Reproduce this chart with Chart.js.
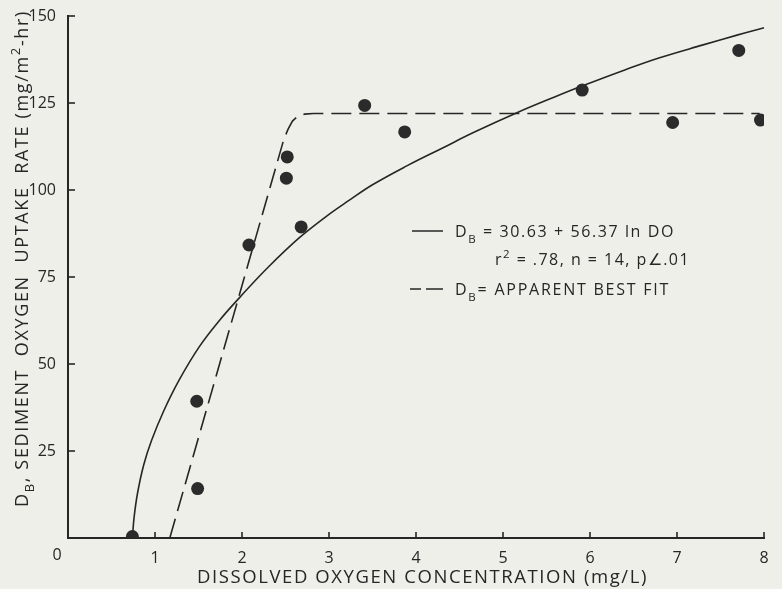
<!DOCTYPE html>
<html>
<head>
<meta charset="utf-8">
<script src="https://cdn.jsdelivr.net/npm/chart.js@4/dist/chart.umd.min.js"></script>
<style>
  html, body { margin: 0; padding: 0; background: #efefea; }
  #wrap { width: 782px; height: 589px; }
</style>
</head>
<body>
<div id="wrap"><canvas id="soc" width="782" height="589"></canvas></div>
<script>
// observed uptake rates
const obsDO   = [0.74, 1.48, 1.49, 2.08, 2.51, 2.52, 2.68, 3.41, 3.87, 5.91, 6.95, 7.71, 7.96];
const obsRate = [0.4, 39.3, 14.2, 84.2, 103.4, 109.5, 89.4, 124.3, 116.7, 128.7, 119.4, 140.1, 120.1];

// log regression curve as drawn
const fitDO   = [0.74, 0.76, 0.80, 0.87, 0.96, 1.10, 1.28, 1.51, 1.75, 1.98, 2.30, 2.66, 3.00, 3.23, 3.50, 3.90, 4.30, 4.66, 5.16, 5.60, 5.90, 6.40, 6.80, 7.30, 7.69, 8.00, 8.20];
const fitRate = [0, 6, 13, 21, 28, 36.5, 45.5, 55, 62.8, 69.3, 77.8, 86.3, 93, 97, 101.5, 107, 112, 116.5, 122.2, 126.8, 129.8, 134.5, 138, 141.7, 144.5, 146.6, 148];

// apparent best fit (broken line)
const bestDO   = [1.17, 2.48, 2.53, 2.58, 2.64, 2.72, 2.82, 7.95];
const bestRate = [0, 114.5, 117.5, 119.8, 121.2, 121.8, 122.0, 122.0];

const xTicks = [0, 1, 2, 3, 4, 5, 6, 7, 8];
const yTicks = [0, 25, 50, 75, 100, 125, 150];

const FONT = '"Open Sans", sans-serif';
const INK = '#262626';

const pts = (xs, ys) => xs.map((x, i) => ({ x, y: ys[i] }));

function segFont(s, size) {
  const sz = s.sub || s.sup ? size * 0.72 : size;
  return `${sz}px ${FONT}`;
}

// draw text runs with subscripts/superscripts, stretched to a given width
function drawRich(ctx, segs, x, y, size, target) {
  ctx.letterSpacing = '0px';
  let base = 0, chars = 0;
  segs.forEach(s => {
    ctx.font = segFont(s, size);
    base += ctx.measureText(s.t).width;
    chars += s.t.length;
  });
  const sp = target ? (target - base) / chars : 0;
  ctx.letterSpacing = sp + 'px';
  let cx = x;
  segs.forEach(s => {
    ctx.font = segFont(s, size);
    const dy = s.sub ? size * 0.35 : s.sup ? -size * 0.45 : 0;
    ctx.fillText(s.t, cx, y + dy);
    cx += ctx.measureText(s.t).width;
  });
  ctx.letterSpacing = '0px';
  return cx;
}

const paper = {
  id: 'paper',
  beforeDraw(chart) {
    const { ctx, width, height } = chart;
    ctx.save();
    ctx.fillStyle = '#efefea';
    ctx.fillRect(0, 0, width, height);
    ctx.restore();
  }
};

const extras = {
  id: 'extras',
  afterDraw(chart) {
    const { ctx, scales: { x, y } } = chart;
    ctx.save();
    ctx.strokeStyle = INK;
    ctx.fillStyle = INK;
    ctx.lineWidth = 1.6;

    // inward tick marks
    xTicks.slice(1).forEach(v => {
      const px = x.getPixelForValue(v);
      ctx.beginPath();
      ctx.moveTo(px, y.bottom);
      ctx.lineTo(px, y.bottom - 6);
      ctx.stroke();
    });
    yTicks.slice(1).forEach(v => {
      const py = y.getPixelForValue(v);
      ctx.beginPath();
      ctx.moveTo(x.left, py);
      ctx.lineTo(x.left + 7, py);
      ctx.stroke();
    });

    // origin label sits left of the corner
    ctx.font = `16px ${FONT}`;
    ctx.textAlign = 'center';
    ctx.textBaseline = 'middle';
    ctx.fillText('0', x.getPixelForValue(0) - 11, y.bottom + 17);

    // legend block
    ctx.textBaseline = 'alphabetic';
    ctx.textAlign = 'left';
    ctx.lineWidth = 1.5;
    ctx.beginPath();
    ctx.moveTo(412, 231); ctx.lineTo(443, 231);
    ctx.stroke();
    drawRich(ctx, [{ t: 'D' }, { t: 'B', sub: true }, { t: ' = 30.63 + 56.37 ln DO' }], 455, 237, 16, 220);
    drawRich(ctx, [{ t: 'r' }, { t: '2', sup: true }, { t: ' = .78, n = 14, p∠.01' }], 495, 265, 16, 195);

    ctx.beginPath();
    ctx.moveTo(410, 289); ctx.lineTo(421, 289);
    ctx.moveTo(426, 289); ctx.lineTo(443, 289);
    ctx.stroke();
    drawRich(ctx, [{ t: 'D' }, { t: 'B', sub: true }, { t: '= APPARENT BEST FIT' }], 455, 295, 16, 215);

    // axis titles
    drawRich(ctx, [{ t: 'DISSOLVED OXYGEN CONCENTRATION (mg/L)' }], 197, 583, 18.5, 451);

    ctx.translate(28, 507);
    ctx.rotate(-Math.PI / 2);
    drawRich(ctx, [
      { t: 'D' }, { t: 'B', sub: true },
      { t: ', SEDIMENT  OXYGEN  UPTAKE  RATE (mg/m' },
      { t: '2', sup: true }, { t: '-hr)' }
    ], 0, 0, 18, 497);
    ctx.restore();
  }
};

new Chart(document.getElementById('soc'), {
  type: 'scatter',
  data: {
    datasets: [
      {
        label: 'observed',
        data: pts(obsDO, obsRate),
        pointRadius: 6.5,
        pointBackgroundColor: '#2b2b2b',
        pointBorderColor: '#2b2b2b',
        pointBorderWidth: 0,
        order: 0
      },
      {
        label: 'D_B = 30.63 + 56.37 ln DO',
        data: pts(fitDO, fitRate),
        showLine: true,
        pointRadius: 0,
        borderColor: INK,
        borderWidth: 1.6,
        tension: 0.4,
        clip: false,
        order: 1
      },
      {
        label: 'D_B = apparent best fit',
        data: pts(bestDO, bestRate),
        showLine: true,
        pointRadius: 0,
        borderColor: INK,
        borderWidth: 1.6,
        borderDash: [20, 8],
        tension: 0,
        order: 2
      }
    ]
  },
  options: {
    responsive: false,
    devicePixelRatio: 1,
    animation: false,
    layout: { padding: { top: 16, right: 18, left: 0, bottom: 0 } },
    scales: {
      x: {
        type: 'linear',
        min: 0,
        max: 8,
        afterFit: s => { s.height = 51; },
        afterBuildTicks: s => { s.ticks = xTicks.map(v => ({ value: v })); },
        grid: { display: false },
        border: { display: true, color: INK, width: 2 },
        ticks: {
          color: INK,
          padding: 3,
          font: { family: FONT, size: 16 },
          callback: v => (v === 0 ? '' : v)
        }
      },
      y: {
        min: 0,
        max: 150,
        afterFit: s => { s.width = 68; },
        afterBuildTicks: s => { s.ticks = yTicks.map(v => ({ value: v })); },
        grid: { display: false },
        border: { display: true, color: INK, width: 2 },
        ticks: {
          color: INK,
          padding: 4,
          font: { family: FONT, size: 16 },
          callback: v => (v === 0 ? '' : v)
        }
      }
    },
    plugins: {
      legend: { display: false },
      tooltip: { enabled: false }
    }
  },
  plugins: [paper, extras]
});
</script>
</body>
</html>
